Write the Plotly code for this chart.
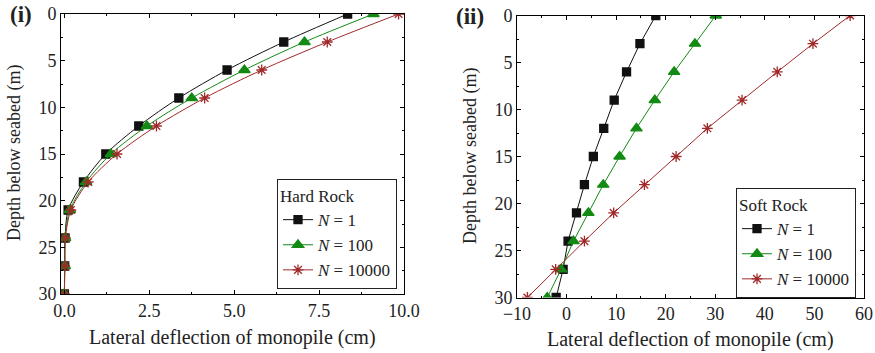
import plotly.graph_objects as go

# Depth below seabed (m), shared by every series
depth = [0, 3, 6, 9, 12, 15, 18, 21, 24, 27, 30]

# Lateral deflection (cm) in hard rock for N = 1, 100, 10000 cycles
hard_n1 = [8.34, 6.46, 4.79, 3.37, 2.19, 1.22, 0.56, 0.11, 0.02, 0.01, 0.0]
hard_n100 = [9.10, 7.07, 5.30, 3.75, 2.43, 1.37, 0.64, 0.16, 0.02, 0.01, 0.0]
hard_n10000 = [9.84, 7.74, 5.81, 4.13, 2.71, 1.55, 0.70, 0.19, 0.03, 0.01, 0.0]

# Lateral deflection (cm) in soft rock for N = 1, 100, 10000 cycles
soft_n1 = [18.0, 14.8, 12.1, 9.6, 7.5, 5.4, 3.6, 2.0, 0.3, -0.7, -2.1]
soft_n100 = [30.1, 25.9, 21.7, 17.8, 14.1, 10.7, 7.4, 4.4, 1.4, -1.1, -3.9]
soft_n10000 = [57.2, 49.7, 42.5, 35.4, 28.4, 22.1, 15.7, 9.5, 3.6, -2.2, -7.9]

series_names = ["<i>N</i> = 1", "<i>N</i> = 100", "<i>N</i> = 10000"]
colors = ["#111111", "#138a13", "#a02a2a"]
symbols = ["square", "triangle-up", "asterisk-open"]
sizes = [8, 10, 9]

FONT = "Liberation Serif"
TEXT = "#222222"

fig = go.Figure()

for i, xs in enumerate([hard_n1, hard_n100, hard_n10000]):
    fig.add_trace(go.Scatter(
        x=xs, y=depth, name=series_names[i], mode="lines+markers",
        line=dict(color=colors[i], width=1, shape="spline", smoothing=0.8),
        marker=dict(symbol=symbols[i], size=sizes[i], color=colors[i],
                    line=dict(color=colors[i], width=1.3)),
        xaxis="x", yaxis="y", legend="legend",
    ))

for i, xs in enumerate([soft_n1, soft_n100, soft_n10000]):
    fig.add_trace(go.Scatter(
        x=xs, y=depth, name=series_names[i], mode="lines+markers",
        line=dict(color=colors[i], width=1),
        marker=dict(symbol=symbols[i], size=sizes[i], color=colors[i],
                    line=dict(color=colors[i], width=1.3)),
        xaxis="x2", yaxis="y2", legend="legend2",
    ))

W, H = 875, 353

axis_common = dict(
    showline=True, linecolor="black", linewidth=1, mirror="ticks",
    ticks="inside", ticklen=4, tickcolor="black", showgrid=False,
    zeroline=False, automargin=False,
    tickfont=dict(family=FONT, size=18, color=TEXT),
)
minor_common = dict(ticks="inside", ticklen=2, tickcolor="black")

legend_common = dict(
    bgcolor="white", bordercolor=TEXT, borderwidth=1,
    font=dict(family=FONT, size=17, color=TEXT), itemwidth=30, tracegroupgap=0,
)

fig.update_layout(
    width=W, height=H,
    margin=dict(l=0, r=0, t=0, b=0),
    paper_bgcolor="white", plot_bgcolor="white",
    font=dict(family=FONT, color=TEXT),
    xaxis=dict(domain=[61 / W, 404 / W], range=[-0.1, 10],
               tickvals=[0, 2.5, 5, 7.5, 10], tickformat=".1f",
               minor=dict(dtick=1.25, **minor_common),
               anchor="y", **axis_common),
    yaxis=dict(domain=[1 - 294 / H, 1 - 14 / H], range=[30, 0],
               dtick=5, minor=dict(dtick=2.5, **minor_common),
               anchor="x", **axis_common),
    xaxis2=dict(domain=[517 / W, 864 / W], range=[-10, 60],
                dtick=10, minor=dict(dtick=5, **minor_common),
                anchor="y2", **axis_common),
    yaxis2=dict(domain=[1 - 297.5 / H, 1 - 15.5 / H], range=[30, 0],
                dtick=5, minor=dict(dtick=2.5, **minor_common),
                anchor="x2", **axis_common),
    legend=dict(
        title=dict(text="Hard Rock", font=dict(family=FONT, size=17, color=TEXT)),
        x=397 / W, xanchor="right", y=1 - 179 / H, yanchor="top",
        **legend_common,
    ),
    legend2=dict(
        title=dict(text="Soft Rock", font=dict(family=FONT, size=17, color=TEXT)),
        x=856 / W, xanchor="right", y=1 - 188 / H, yanchor="top",
        **legend_common,
    ),
    showlegend=True,
)

# Axis titles and panel labels
xtitle_font = dict(family=FONT, size=20, color=TEXT)
ytitle_font = dict(family=FONT, size=18, color=TEXT)
panel_font = dict(family=FONT, size=23, color=TEXT)
annotations = [
    dict(text="Lateral deflection of monopile (cm)", x=(61 + 404) / 2 / W, y=1 - 337 / H,
         font=xtitle_font),
    dict(text="Lateral deflection of monopile (cm)", x=(517 + 864) / 2 / W, y=1 - 339 / H,
         font=xtitle_font),
    dict(text="Depth below seabed (m)", x=14 / W, y=1 - 153 / H, textangle=-90,
         font=ytitle_font),
    dict(text="Depth below seabed (m)", x=470 / W, y=1 - 156 / H, textangle=-90,
         font=ytitle_font),
    dict(text="<b>(i)</b>", x=21 / W, y=1 - 15 / H, font=panel_font),
    dict(text="<b>(ii)</b>", x=470 / W, y=1 - 17 / H, font=panel_font),
]
for a in annotations:
    fig.add_annotation(xref="paper", yref="paper", showarrow=False,
                       xanchor="center", yanchor="middle", **a)

fig.write_html("out.html")
